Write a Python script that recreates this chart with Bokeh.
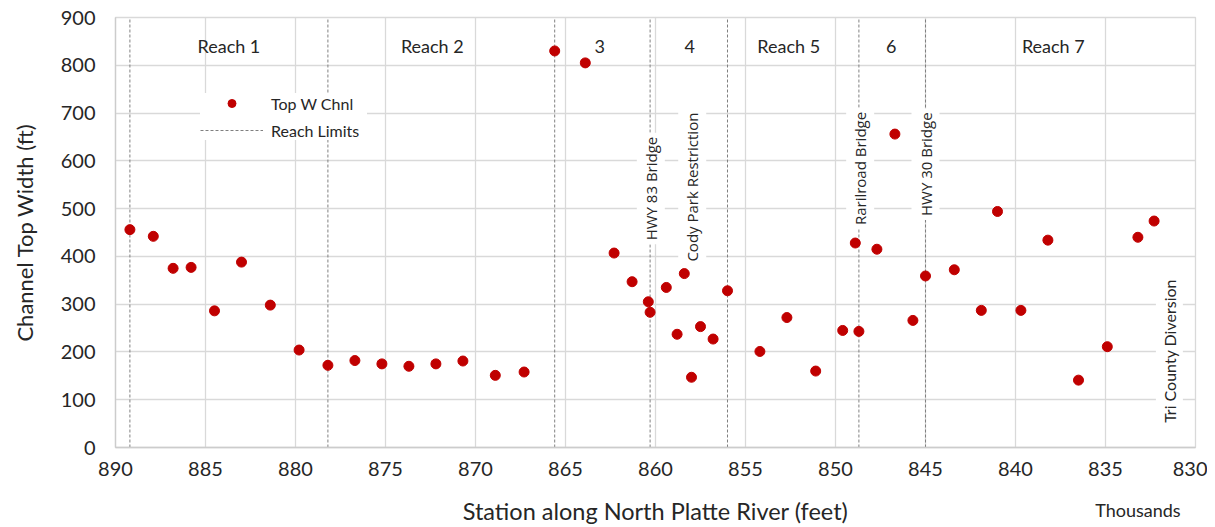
import math
from bokeh.plotting import figure
from bokeh.models import Range1d, Label, Legend, LegendItem, FixedTicker, ColumnDataSource, LinearAxis
from bokeh.core.properties import value
from bokeh.embed import file_html
from bokeh.resources import INLINE

# ---- data (station in thousands of feet, channel top width in ft) ----
stations = [889.2, 887.9, 886.8, 885.8, 884.5, 883.0, 881.4, 879.8, 878.2, 876.7,
            875.2, 873.7, 872.2, 870.7, 868.9, 867.3, 865.6, 863.9, 862.3, 861.3,
            860.4, 860.3, 859.4, 858.8, 858.4, 858.0, 857.5, 856.8, 856.0, 854.2,
            852.7, 851.1, 849.6, 848.9, 848.7, 847.7, 846.7, 845.7, 845.0, 843.4,
            841.9, 841.0, 839.7, 838.2, 836.5, 834.9, 833.2, 832.3]
top_widths = [456, 442, 375, 377, 286, 388, 298, 204, 172, 182,
              175, 170, 175, 181, 151, 158, 830, 805, 407, 347,
              305, 283, 335, 237, 364, 147, 253, 227, 328, 201,
              272, 160, 245, 428, 243, 415, 656, 266, 359, 372,
              287, 494, 287, 434, 141, 211, 440, 474]

reach_limits = [889.2, 878.2, 865.6, 860.3, 856.0, 848.7, 845.0]

reach_names = ["Reach 1", "Reach 2", "3", "4", "Reach 5", "6", "Reach 7"]
reach_name_x = [883.7, 872.4, 863.1, 858.1, 852.6, 846.9, 837.9]
reach_name_y = [840, 840, 840, 840, 840, 840, 840]

landmarks = ["HWY 83 Bridge", "Cody Park Restriction", "Rarilroad Bridge", "HWY 30 Bridge", "Tri County Diversion"]
landmark_x = [860.26, 857.96, 848.63, 845.0, 831.45]
landmark_y = [542, 545, 584, 593, 202]

x_ticks = [890, 885, 880, 875, 870, 865, 860, 855, 850, 845, 840, 835, 830]
y_ticks = [0, 100, 200, 300, 400, 500, 600, 700, 800, 900]
units_note = "Thousands"
units_note_x = 833.2

RED = "#C00000"
GRID = "#d9d9d9"
TXT = "#262626"

p = figure(width=1207, height=527, x_range=Range1d(890, 830), y_range=Range1d(0, 900),
           output_backend="svg", toolbar_location=None,
           min_border_left=115, min_border_right=12, min_border_top=17, min_border_bottom=80)
p.background_fill_color = "white"
p.border_fill_color = "white"
p.outline_line_color = GRID
p.outline_line_width = 1.3

p.xaxis.ticker = FixedTicker(ticks=x_ticks)
p.yaxis.ticker = FixedTicker(ticks=y_ticks)
p.grid.grid_line_color = GRID
p.grid.grid_line_width = 1.3

# second, label-only axis below: carries the axis title and the "Thousands" note on one row
note_axis = LinearAxis(ticker=FixedTicker(ticks=[units_note_x]),
                       major_label_overrides={units_note_x: units_note})
p.add_layout(note_axis, "below")

for ax in (p.xaxis[0], p.yaxis[0], note_axis):
    ax.major_tick_line_color = None
    ax.minor_tick_line_color = None
    ax.major_tick_out = 0
    ax.major_tick_in = 0
    ax.minor_tick_out = 0
    ax.minor_tick_in = 0
    ax.axis_line_color = "#cccccc"
    ax.axis_line_width = 1.3
    ax.major_label_text_font = "Lato"
    ax.major_label_text_font_size = "20px"
    ax.major_label_text_color = TXT
    ax.axis_label_text_font = "Lato"
    ax.axis_label_text_font_size = "22px"
    ax.axis_label_text_font_style = "normal"
    ax.axis_label_text_color = TXT

note_axis.axis_line_color = None
note_axis.major_label_text_font_size = "18px"
note_axis.major_label_standoff = 20
note_axis.axis_label = "Station along North Platte River (feet)"
note_axis.axis_label_text_font_size = "23.5px"
note_axis.axis_label_standoff = -27

p.yaxis.axis_label = "Channel Top Width (ft)"
p.xaxis[0].major_label_standoff = 14
p.yaxis.major_label_standoff = 20
p.yaxis.axis_label_standoff = 20

seg = p.segment(x0=reach_limits, y0=[0] * len(reach_limits), x1=reach_limits, y1=[900] * len(reach_limits),
                line_color="#808080", line_width=1, line_dash="3 2")
sc = p.scatter(x=stations, y=top_widths, size=10, fill_color=RED, line_color=RED)

src = ColumnDataSource(dict(x=reach_name_x, y=reach_name_y, t=reach_names))
p.text(x="x", y="y", text="t", source=src, text_font=value("Lato"), text_font_size=value("18px"),
       text_align="center", text_baseline="middle", text_color=TXT)

for i, (t, lx, ly) in enumerate(zip(landmarks, landmark_x, landmark_y)):
    is_last = (i == len(landmarks) - 1)
    p.add_layout(Label(x=lx, y=ly, text=t, angle=math.pi / 2, text_align="center", text_baseline="middle",
                       text_font="Lato" if is_last else "Open Sans",
                       text_font_size="16px" if is_last else "15px", text_color=TXT,
                       background_fill_color="white", background_fill_alpha=1.0, padding=4))

legend = Legend(items=[LegendItem(label="Top W Chnl", renderers=[sc]),
                       LegendItem(label="Reach Limits", renderers=[seg])],
                location=(85, 307), background_fill_color="white", background_fill_alpha=1.0,
                border_line_color=None, label_text_font="Lato", label_text_font_size="16px",
                label_text_color=TXT, glyph_width=63, glyph_height=20, label_height=20, label_width=96,
                label_standoff=8, padding=5, spacing=7, margin=0)
p.add_layout(legend)

open("out.html", "w").write(file_html(p, INLINE))
